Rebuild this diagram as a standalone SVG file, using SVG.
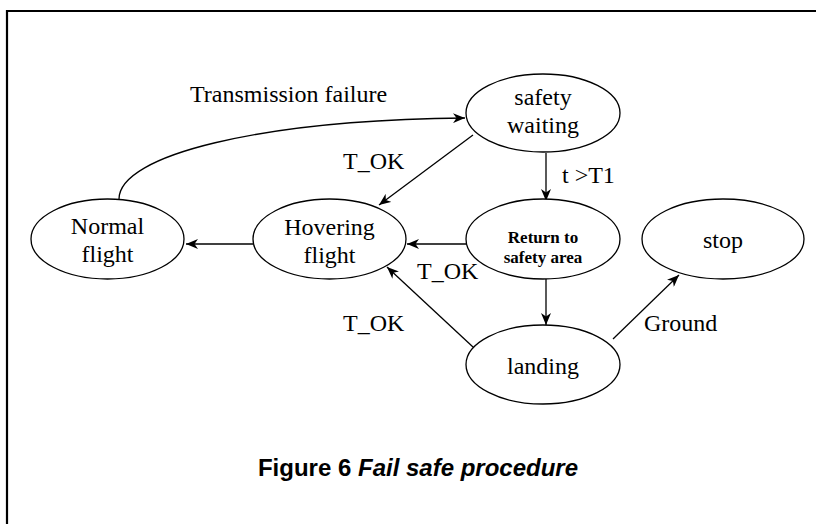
<svg xmlns="http://www.w3.org/2000/svg" width="816" height="524" viewBox="0 0 816 524">
<style>
.n{fill:#fff;stroke:#000;stroke-width:1.3}
.t{font-family:"Liberation Serif","Times New Roman",serif;font-size:24px;fill:#000;text-anchor:middle}
.b{font-family:"Liberation Serif","Times New Roman",serif;font-size:17px;font-weight:bold;fill:#000;text-anchor:middle}
.l{font-family:"Liberation Serif","Times New Roman",serif;font-size:24px;fill:#000}
.e{fill:none;stroke:#000;stroke-width:1.3;marker-end:url(#ah)}
.cap{font-family:"Liberation Sans",Arial,sans-serif;font-size:24px;font-weight:bold;fill:#000;text-anchor:middle}
</style>
<defs>
<marker id="ah" viewBox="0 0 12 10" refX="12" refY="5" markerWidth="12" markerHeight="10" markerUnits="userSpaceOnUse" orient="auto">
<path d="M0,0 L12,5 L0,10 L3.5,5 z" fill="#000"/>
</marker>
</defs>
<rect width="816" height="524" fill="#fff"/>
<path d="M7,524 V11 H816" fill="none" stroke="#000" stroke-width="2.2"/>
<g id="connectors">
<path class="e" d="M119,199 C119,155 260,120 465,118"/>
<line class="e" x1="473" y1="135" x2="379" y2="205"/>
<line class="e" x1="546" y1="153" x2="546" y2="201"/>
<line class="e" x1="466" y1="244" x2="407" y2="244"/>
<line class="e" x1="546" y1="279" x2="546" y2="325"/>
<line class="e" x1="473" y1="347" x2="387" y2="267"/>
<line class="e" x1="613" y1="339" x2="679" y2="275"/>
<line class="e" x1="253" y1="244" x2="186" y2="244"/>
<text class="l" x="190" y="102">Transmission failure</text>
<text class="l" x="343" y="169">T_OK</text>
<text class="l" x="562" y="183">t &gt;T1</text>
<text class="l" x="417" y="279">T_OK</text>
<text class="l" x="343" y="331">T_OK</text>
<text class="l" x="644" y="331">Ground</text>
</g>
<g id="safety-waiting">
<ellipse class="n" cx="543" cy="113" rx="77" ry="39"/>
<text class="t" x="543" y="105">safety</text>
<text class="t" x="543" y="133">waiting</text>
</g>
<g id="normal-flight">
<ellipse class="n" cx="107.5" cy="239" rx="76.5" ry="40"/>
<text class="t" x="107.5" y="234">Normal</text>
<text class="t" x="107.5" y="262">flight</text>
</g>
<g id="hovering-flight">
<ellipse class="n" cx="329.5" cy="239" rx="76.5" ry="40"/>
<text class="t" x="329.5" y="235">Hovering</text>
<text class="t" x="329.5" y="263">flight</text>
</g>
<g id="return-to-safety-area">
<ellipse class="n" cx="543" cy="239" rx="77" ry="40"/>
<text class="b" x="543" y="243">Return to</text>
<text class="b" x="543" y="263">safety area</text>
</g>
<g id="stop">
<ellipse class="n" cx="723" cy="239" rx="81" ry="40"/>
<text class="t" x="723" y="248">stop</text>
</g>
<g id="landing">
<ellipse class="n" cx="543" cy="364.5" rx="77" ry="39.5"/>
<text class="t" x="543" y="374">landing</text>
</g>
<text class="cap" x="418" y="476">Figure 6 <tspan font-style="italic">Fail safe procedure</tspan></text>
</svg>
